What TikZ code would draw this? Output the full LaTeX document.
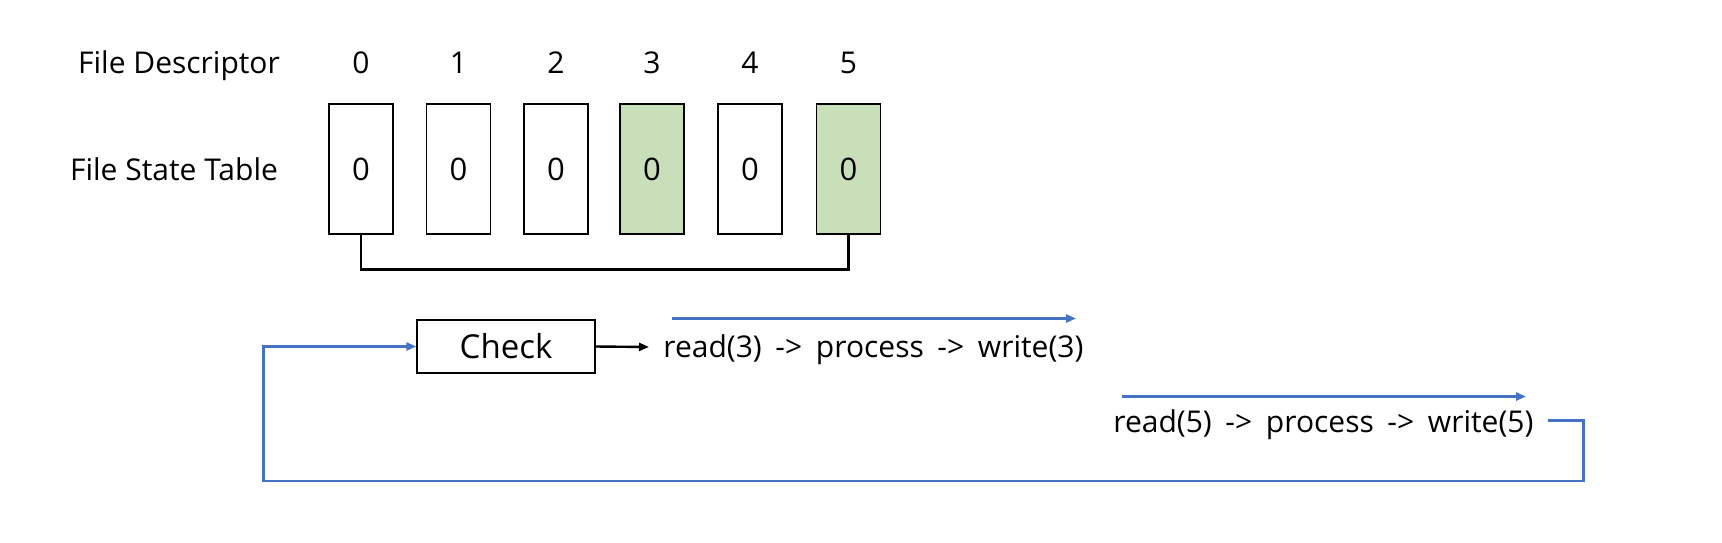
\documentclass[tikz,border=0pt]{standalone}
\usepackage{fontspec}
\setmainfont{Open Sans}
\newfontfamily\widespace[WordSpace=1.75]{Open Sans}
\usetikzlibrary{arrows.meta}
\definecolor{fsgreen}{HTML}{C9DFB9}
\definecolor{fsblue}{HTML}{4472C4}
\begin{document}
\begin{tikzpicture}[x=0.5pt,y=-0.5pt,
  txt/.style={inner sep=0pt, font=\fontsize{15}{18}\selectfont},
  flow/.style={inner sep=0pt, font=\widespace\fontsize{15}{18}\selectfont},
  cell/.style={draw=black, line width=0.7pt, minimum width=32pt, minimum height=65pt, inner sep=0pt, font=\fontsize{15.5}{18}\selectfont},
  greencell/.style={cell, fill=fsgreen},
  checkbox/.style={draw=black, line width=0.7pt, minimum width=89pt, minimum height=26.5pt, inner sep=0pt, font=\fontsize{16.5}{19}\selectfont},
  blueline/.style={draw=fsblue, line width=1.3pt},
  bluearrow/.style={blueline, -{Triangle[length=5pt,width=4pt]}},
  blackarrow/.style={draw=black, line width=1.2pt, -{Triangle[length=5pt,width=4pt]}}
]
\useasboundingbox (0,0) rectangle (1722,542);
\fill[white] (0,0) rectangle (1722,542);

\node[txt] (fd) at (179,65.5) {File Descriptor};
\node[txt] (fst) at (174,169) {File State Table};

\node[txt] (n0) at (361,63) {0};
\node[txt] (n1) at (458.5,63) {1};
\node[txt] (n2) at (556,63) {2};
\node[txt] (n3) at (652,63) {3};
\node[txt] (n4) at (750,63) {4};
\node[txt] (n5) at (848.5,63) {5};

\node[cell] (b0) at (361,169) {0};
\node[cell] (b1) at (458.5,169) {0};
\node[cell] (b2) at (556,169) {0};
\node[greencell] (b3) at (652,169) {0};
\node[cell] (b4) at (750,169) {0};
\node[greencell] (b5) at (848.5,169) {0};

\draw[line width=1.3pt] (b0.south) -- ++(0,35) -| (b5.south);

\node[checkbox] (check) at (506,346.5) {Check};
\node[flow, anchor=west] (r3) at (663,350) {read(3) -> process -> write(3)};
\node[flow, anchor=west] (r5) at (1113,425) {read(5) -> process -> write(5)};

\coordinate (ca) at (649,347);
\draw[blackarrow] (check.east) -- (ca);

\coordinate (a3s) at (672,318.5);
\coordinate (a3e) at (1076,318.5);
\draw[bluearrow] (a3s) -- (a3e);

\coordinate (a5s) at (1122,396.5);
\coordinate (a5e) at (1526,396.5);
\draw[bluearrow] (a5s) -- (a5e);

\coordinate (ls) at (1548,420.6);
\coordinate (lr) at (1583.6,420.6);
\coordinate (lb) at (263.6,481);
\draw[blueline, -{Triangle[length=5pt,width=4pt]}] (ls) -- (lr) |- (lb) |- (check.west);
\end{tikzpicture}
\end{document}
